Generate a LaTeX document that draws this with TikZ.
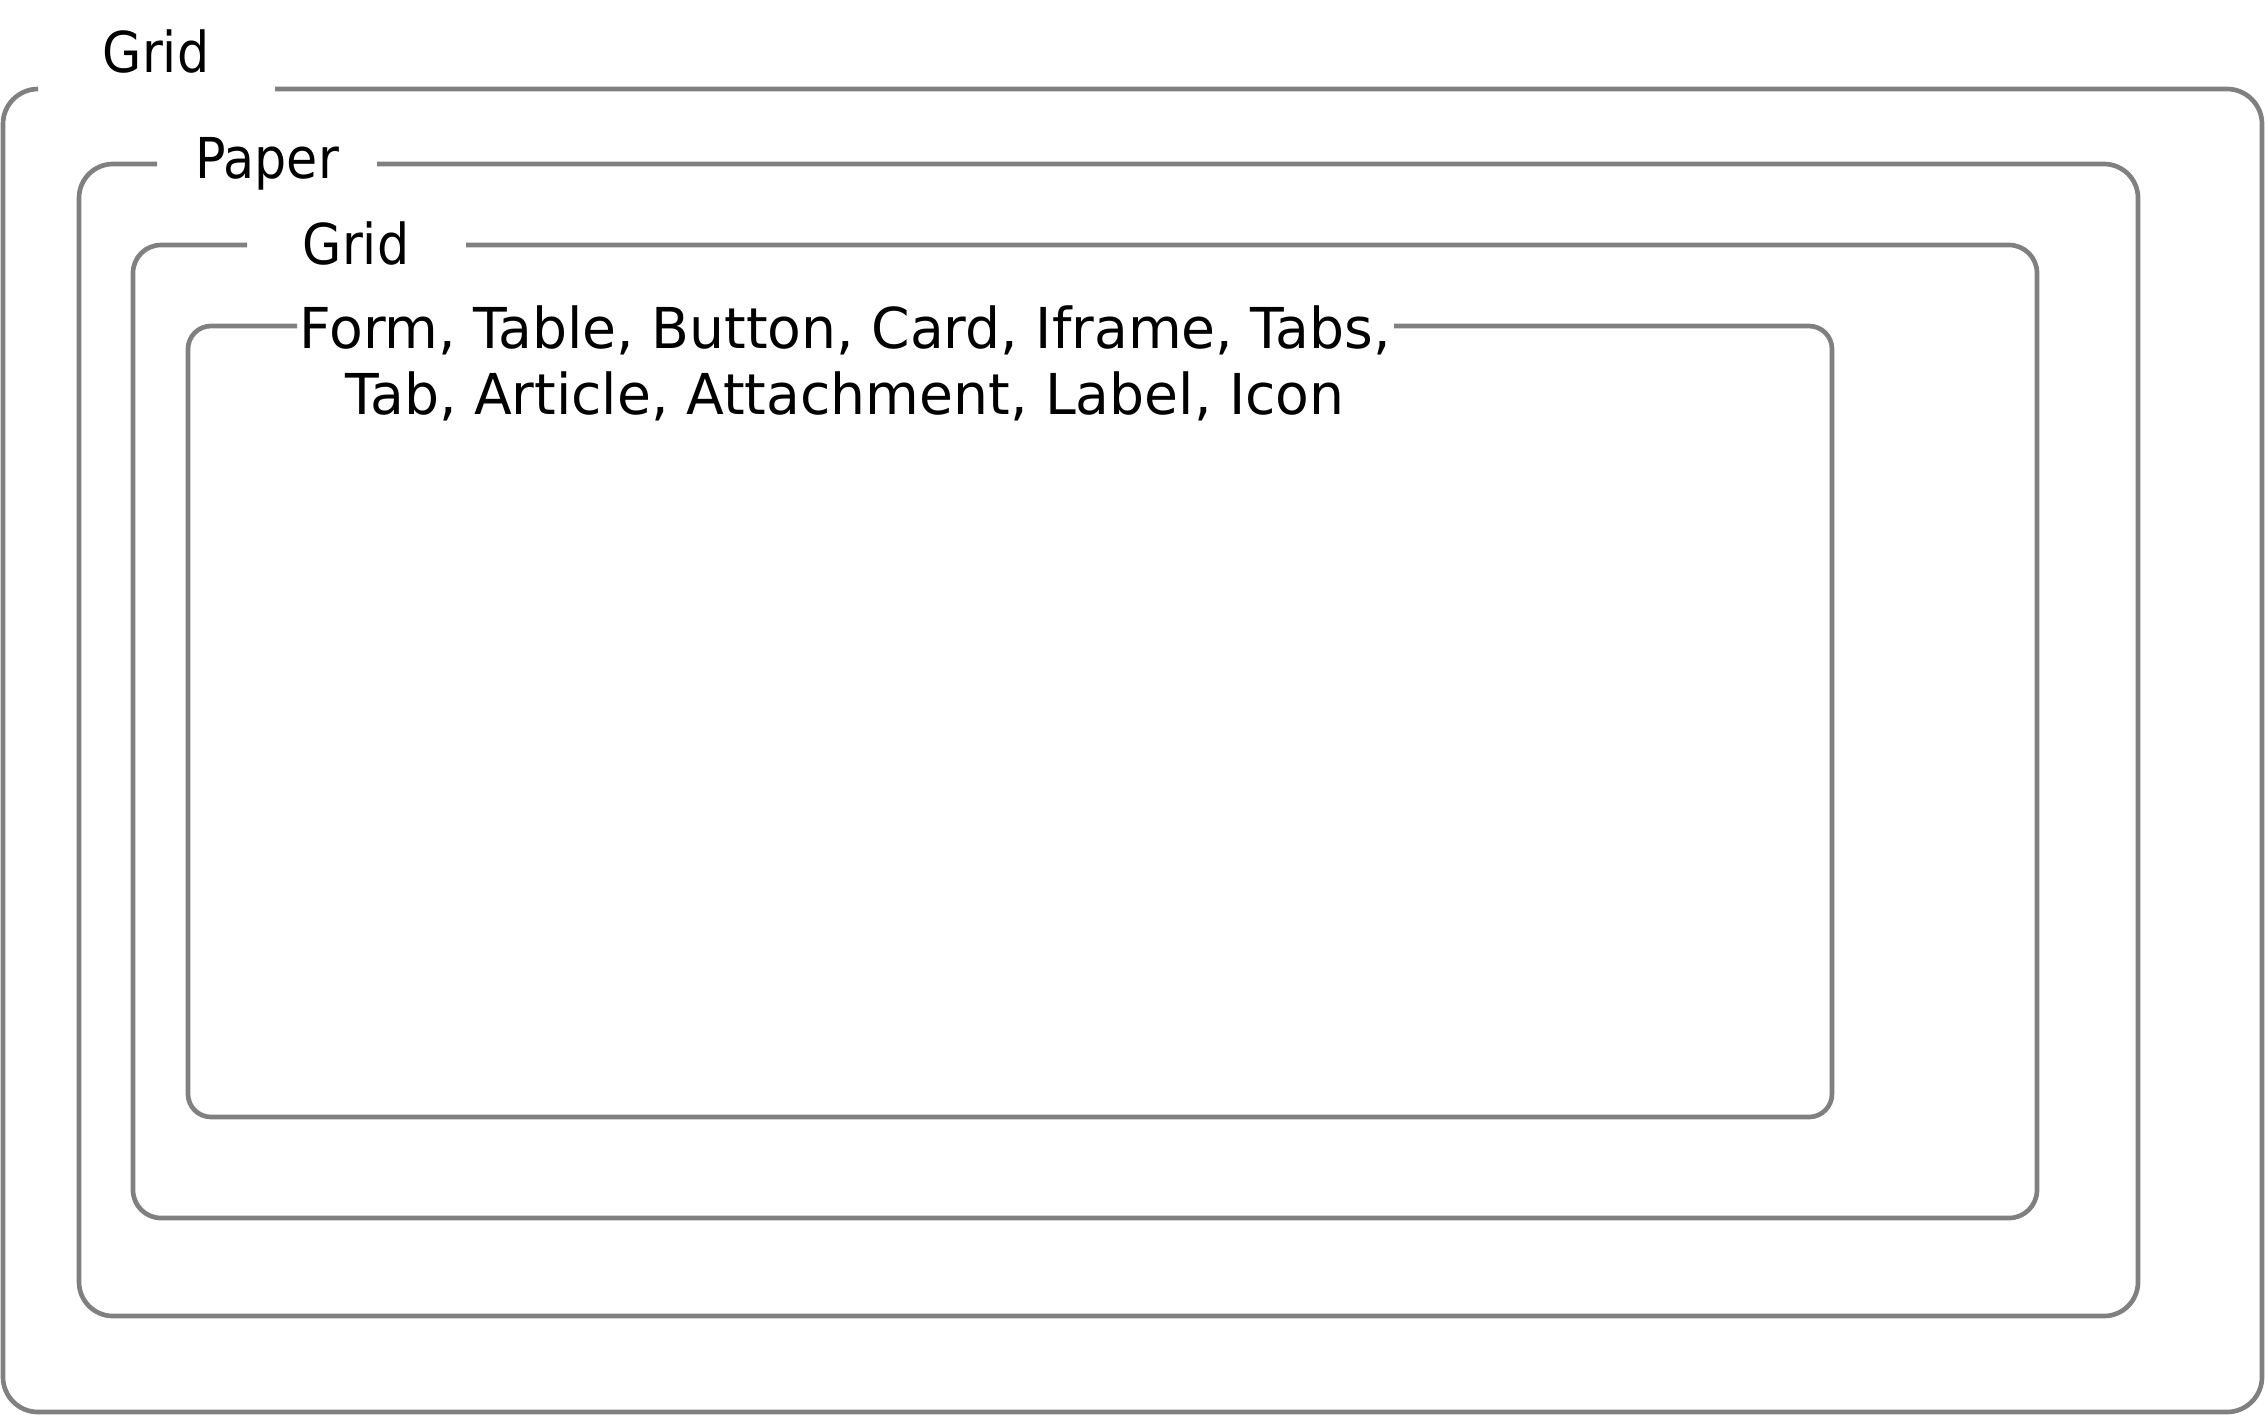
\documentclass[tikz,border=0pt]{standalone}
\usepackage{fontspec}
\setmainfont{DejaVu Sans}
\newfontfamily\tagfont[FakeStretch=0.9]{DejaVu Sans}
\newfontfamily\listfont[FakeStretch=0.98]{DejaVu Sans}
\usepackage{tikz}

\begin{document}
\begin{tikzpicture}[x=0.3pt, y=-0.3pt, frame/.style={draw=gray, line width=1.4pt}, tag/.style={inner sep=0pt, anchor=base, font=\tagfont\fontsize{16.9}{19.8}\selectfont}, listtag/.style={inner sep=0pt, anchor=north, align=center, font=\listfont\fontsize{16.9}{19.8}\selectfont}]
  \useasboundingbox (0,0) rectangle (2265,1416);
  \draw[frame, rounded corners=10.5pt] (275,89) -- (2262,89) -- (2262,1412) -- (3,1412) -- (3,89) -- (38,89);
  \draw[frame, rounded corners=10.2pt] (377,164) -- (2138,164) -- (2138,1316) -- (79,1316) -- (79,164) -- (157,164);
  \draw[frame, rounded corners=8.4pt] (466,245) -- (2037,245) -- (2037,1218) -- (133,1218) -- (133,245) -- (247,245);
  \draw[frame, rounded corners=6.9pt] (1394,326) -- (1832,326) -- (1832,1117) -- (188,1117) -- (188,326) -- (297,326);
  \node[tag] (outergrid) at (156,72) {Grid};
  \node[tag] (paper) at (267,178) {Paper};
  \node[tag] (innergrid) at (356,264) {Grid};
  \node[listtag] (parts) at (845,305) {Form, Table, Button, Card, Iframe, Tabs,\\Tab, Article, Attachment, Label, Icon};
\end{tikzpicture}
\end{document}
